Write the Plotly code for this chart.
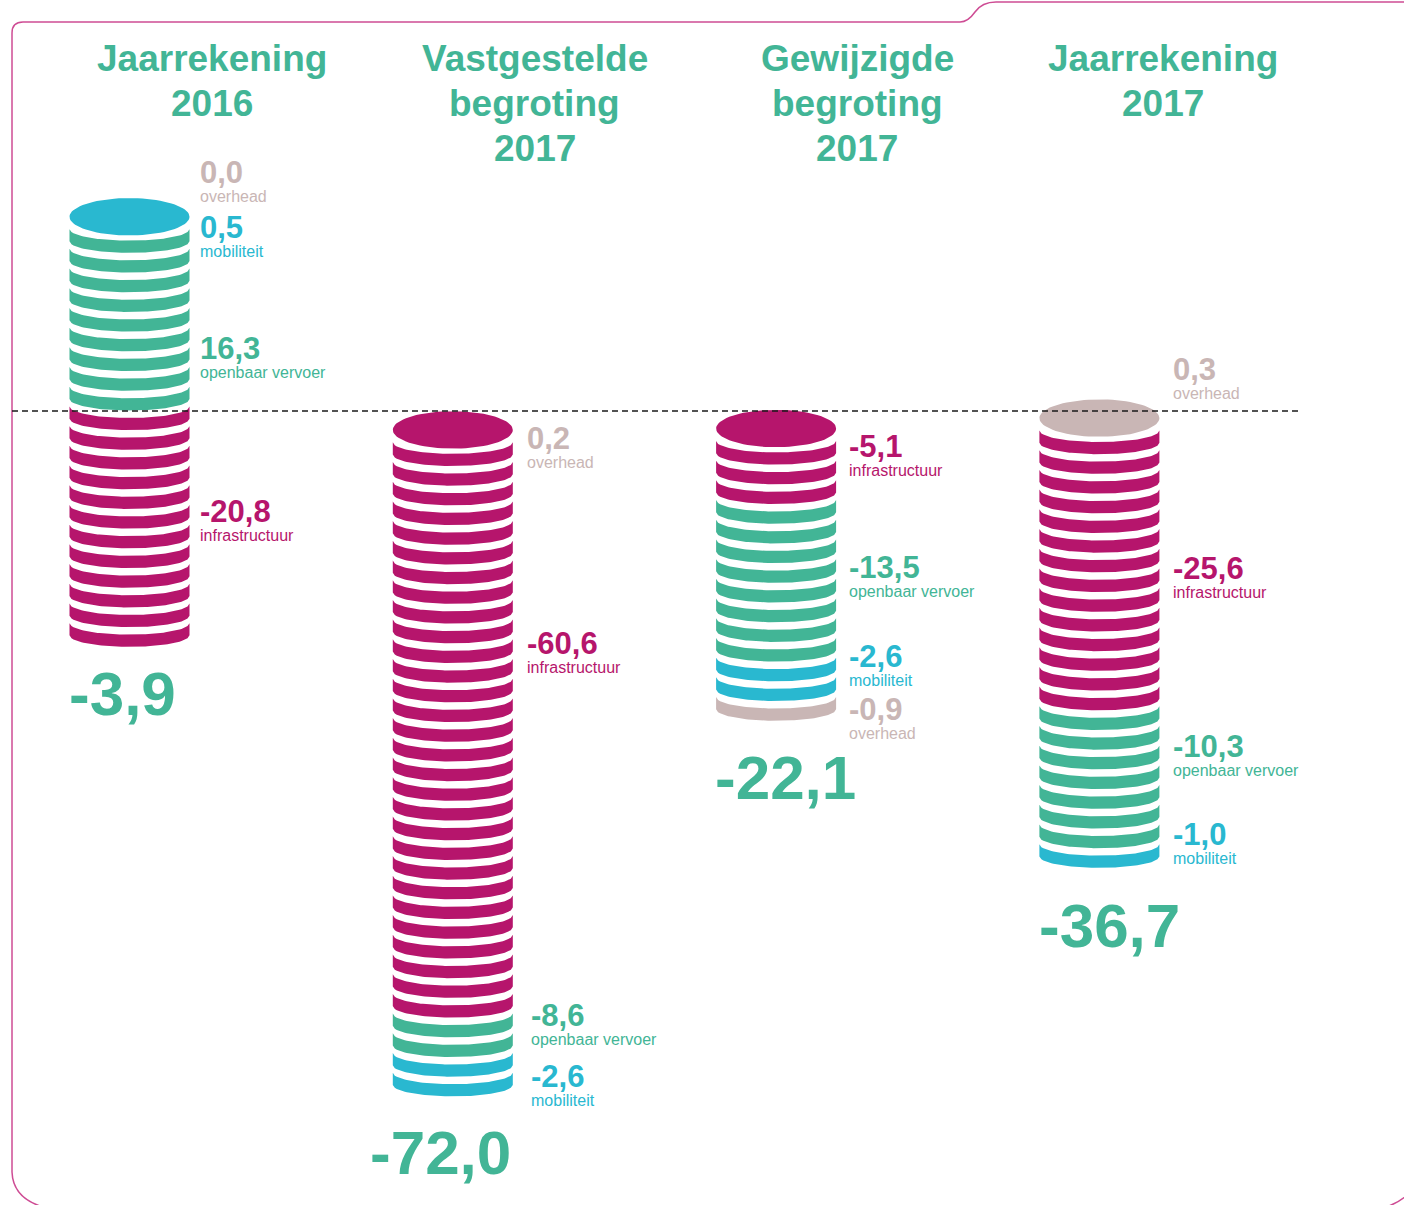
import numpy as np
import plotly.graph_objects as go

# ---------------- DATA ----------------
column_titles = [["Jaarrekening", "2016"],
                 ["Vastgestelde", "begroting", "2017"],
                 ["Gewijzigde", "begroting", "2017"],
                 ["Jaarrekening", "2017"]]

# labels beside each stack (top to bottom)
label_cats = [["overhead", "mobiliteit", "openbaar vervoer", "infrastructuur"],
              ["overhead", "infrastructuur", "openbaar vervoer", "mobiliteit"],
              ["infrastructuur", "openbaar vervoer", "mobiliteit", "overhead"],
              ["overhead", "infrastructuur", "openbaar vervoer", "mobiliteit"]]
label_vals = [[0.0, 0.5, 16.3, -20.8],
              [0.2, -60.6, -8.6, -2.6],
              [-5.1, -13.5, -2.6, -0.9],
              [0.3, -25.6, -10.3, -1.0]]
totals = [-3.9, -72.0, -22.1, -36.7]

# coin stacks (top to bottom): category and number of coins
coin_cats = [["mobiliteit", "openbaar vervoer", "infrastructuur"],
             ["infrastructuur", "openbaar vervoer", "mobiliteit"],
             ["infrastructuur", "openbaar vervoer", "mobiliteit", "overhead"],
             ["overhead", "infrastructuur", "openbaar vervoer", "mobiliteit"]]
coin_counts = [[1, 9, 12],
               [30, 2, 2],
               [4, 8, 2, 1],
               [1, 14, 7, 1]]

# ---------------- STYLE / LAYOUT ----------------
colors = {"overhead": "#C9B6B5", "mobiliteit": "#29B8D0",
          "openbaar vervoer": "#42B596", "infrastructuur": "#B6156C"}
GREEN = "#42B596"
FONT = "Liberation Sans, Arial, sans-serif"

W, H = 1404, 1205
PX_X = 323.3      # pixels per column unit
PX_Y = 19.7       # pixels per coin unit
X0_PX = 129.5     # pixel x of first column centre
ZERO_PX = 411     # pixel y of zero line

def dx(px):
    return px / PX_X

def dy(px):
    return px / PX_Y

def ypos(py):
    return (ZERO_PX - py) / PX_Y

stack_top = [9.86, -0.96, -0.89, -0.36]          # centre of top coin face
label_y = [[12.13, 9.29, 3.15, -5.08],
           [-1.42, -11.78, -30.71, -33.76],
           [-1.78, -7.92, -12.44, -15.13],
           [2.13, -8.02, -17.01, -21.52]]
label_dx = [[68, 68, 68, 68], [72, 72, 76, 76], [71, 71, 71, 71], [72, 72, 72, 72]]
total_dx = [-62.5, -85, -63, -62]
total_y = [ypos(693), ypos(1152), ypos(777), ypos(925)]
title_dx = [82.5, 82, 81, 63.5]
title_py = [58, 103, 148]

RX = dx(60)
RY = dy(18.7)
T = dy(12.2)
S = dy(11.5)
D = dy(30)
P = dy(19.7)

def fmt(v):
    return f"{v:.1f}".replace(".", ",")

# ---------------- BUILD COINS ----------------
polys = {c: ([], []) for c in colors}
u = np.linspace(-1, 1, 61)
sag = 1 - np.sqrt(1 - u ** 2)
th = np.linspace(0, 2 * np.pi, 80)
for i in range(4):
    seq = []
    for cat, n in zip(coin_cats[i], coin_counts[i]):
        seq += [cat] * n
    top = stack_top[i]
    for k, cat in enumerate(seq):
        xs, ys = polys[cat]
        if k == 0:
            px_ = i + RX * np.cos(th)
            py_ = top + RY * np.sin(th)
        else:
            yc = top - D - (k - 1) * P
            up = yc + T / 2 + S * sag
            lo = yc - T / 2 + S * sag
            px_ = np.concatenate([i + RX * u, (i + RX * u)[::-1], [i - RX]])
            py_ = np.concatenate([up, lo[::-1], [up[0]]])
        xs.extend(list(px_) + [None])
        ys.extend(list(py_) + [None])

fig = go.Figure()
for cat, (xs, ys) in polys.items():
    fig.add_trace(go.Scatter(x=xs, y=ys, mode="lines", fill="toself",
                             fillcolor=colors[cat], line=dict(width=0),
                             hoverinfo="skip", showlegend=False))

ann = []
for i in range(4):
    for cat, v, y, ldx in zip(label_cats[i], label_vals[i], label_y[i], label_dx[i]):
        lx = i + dx(ldx)
        ann.append(dict(x=lx, y=y, text=f"<b>{fmt(v)}</b>", xanchor="left", yanchor="middle",
                        showarrow=False, font=dict(size=31, color=colors[cat], family=FONT)))
        ann.append(dict(x=lx, y=y - dy(24), text=cat, xanchor="left", yanchor="middle",
                        showarrow=False, font=dict(size=16, color=colors[cat], family=FONT)))
    ann.append(dict(x=i + dx(total_dx[i]), y=total_y[i], text=f"<b>{fmt(totals[i])}</b>",
                    xanchor="left", yanchor="middle", showarrow=False,
                    font=dict(size=62, color=GREEN, family=FONT)))
    for j, line in enumerate(column_titles[i]):
        ann.append(dict(x=i + dx(title_dx[i]), y=ypos(title_py[j]), text=f"<b>{line}</b>",
                        xanchor="center", yanchor="middle", showarrow=False,
                        font=dict(size=37, color=GREEN, family=FONT)))

def pp(x, y):
    return f"{x / W:.5f},{1 - y / H:.5f}"

border = ("M " + pp(43, 1207) + " Q " + pp(13, 1198) + " " + pp(12, 1172) +
          " L " + pp(12, 33) + " Q " + pp(12, 22) + " " + pp(23, 22) +
          " L " + pp(960, 22) + " Q " + pp(968, 22) + " " + pp(975, 12) +
          " Q " + pp(982, 2) + " " + pp(996, 2) + " L " + pp(1406, 2))
border2 = "M " + pp(1386, 1207) + " Q " + pp(1398, 1203) + " " + pp(1406, 1196)

shapes = [
    dict(type="path", xref="paper", yref="paper", path=border,
         line=dict(color="#CE4C94", width=1.5)),
    dict(type="path", xref="paper", yref="paper", path=border2,
         line=dict(color="#CE4C94", width=1.5)),
    dict(type="line", xref="paper", yref="y", x0=12 / W, x1=1302 / W, y0=0, y1=0,
         line=dict(color="#1a1a1a", width=1.3, dash="6px,4px")),
]

fig.update_layout(
    width=W, height=H, autosize=False,
    margin=dict(l=0, r=0, t=0, b=0),
    paper_bgcolor="white", plot_bgcolor="white",
    xaxis=dict(range=[-X0_PX / PX_X, (W - X0_PX) / PX_X], visible=False, fixedrange=True),
    yaxis=dict(range=[ypos(H), ypos(0)], visible=False, fixedrange=True),
    annotations=ann, shapes=shapes,
)

fig.write_html("out.html", config={"displayModeBar": False},
               post_script="document.body.style.margin='0';document.body.style.overflow='hidden';")
